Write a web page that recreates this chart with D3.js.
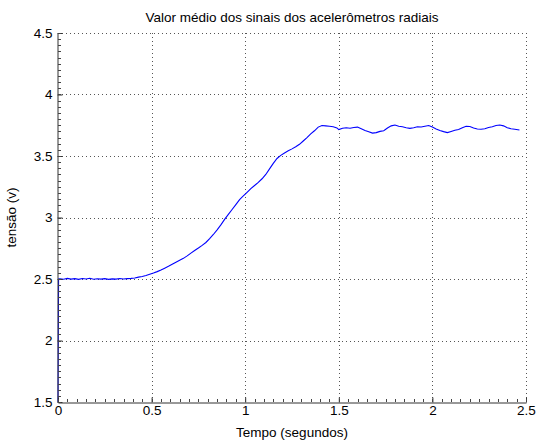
<!DOCTYPE html>
<html>
<head>
<meta charset="utf-8">
<script src="https://cdn.jsdelivr.net/npm/d3@7"></script>
<style>
html,body{margin:0;padding:0;background:#fff;}
svg{display:block;font-family:"Liberation Sans",Arial,Helvetica,sans-serif;}
</style>
</head>
<body>
<svg id="chart" width="536" height="441"></svg>
<script>
const titleText = "Valor médio dos sinais dos acelerômetros radiais";
const xLabel = "Tempo (segundos)";
const yLabel = "tensão (v)";
const xTicks = [0, 0.5, 1, 1.5, 2, 2.5];
const yTicks = [1.5, 2, 2.5, 3, 3.5, 4, 4.5];
const xTickLabels = ["0", "0.5", "1", "1.5", "2", "2.5"];
const yTickLabels = ["1.5", "2", "2.5", "3", "3.5", "4", "4.5"];

const time = [0, 0.003, 0.01, 0.03, 0.05, 0.07, 0.09, 0.11, 0.13, 0.15, 0.17, 0.19, 0.21, 0.23, 0.25, 0.27, 0.29, 0.31, 0.33, 0.35, 0.37, 0.39,
  0.41, 0.43, 0.45, 0.47, 0.49, 0.51, 0.53, 0.55, 0.57, 0.59, 0.61, 0.63, 0.65, 0.67, 0.69, 0.71, 0.73, 0.75, 0.77, 0.79,
  0.81, 0.83, 0.85, 0.87, 0.89, 0.91, 0.93, 0.95, 0.97, 0.99, 1.01, 1.03, 1.05, 1.07, 1.09, 1.11, 1.13, 1.15, 1.17, 1.19,
  1.21, 1.23, 1.25, 1.27, 1.29, 1.31, 1.33, 1.35, 1.37, 1.39, 1.41, 1.43, 1.45, 1.47, 1.49, 1.50, 1.52, 1.54, 1.56, 1.58,
  1.60, 1.62, 1.64, 1.66, 1.68, 1.70, 1.72, 1.74, 1.76, 1.78, 1.80, 1.82, 1.84, 1.86, 1.88, 1.90, 1.92, 1.94, 1.96, 1.98,
  2.00, 2.02, 2.04, 2.06, 2.08, 2.10, 2.12, 2.14, 2.16, 2.18, 2.20, 2.22, 2.24, 2.26, 2.28, 2.30, 2.32, 2.34, 2.36, 2.38,
  2.40, 2.42, 2.44, 2.465];
const tension = [1.5, 2.500, 2.502, 2.498, 2.505, 2.499, 2.503, 2.497, 2.504, 2.500, 2.506, 2.498, 2.502, 2.499, 2.503, 2.497, 2.501, 2.499, 2.504, 2.500, 2.503, 2.505,
  2.508, 2.515, 2.520, 2.528, 2.538, 2.548, 2.560, 2.573, 2.588, 2.603, 2.620, 2.636, 2.652, 2.668, 2.688, 2.710, 2.732, 2.752, 2.773, 2.797,
  2.828, 2.862, 2.900, 2.940, 2.985, 3.025, 3.065, 3.105, 3.145, 3.175, 3.205, 3.235, 3.260, 3.285, 3.315, 3.350, 3.395, 3.440, 3.480, 3.505,
  3.525, 3.542, 3.558, 3.575, 3.595, 3.622, 3.650, 3.680, 3.705, 3.735, 3.748, 3.745, 3.742, 3.738, 3.728, 3.715, 3.725, 3.730, 3.726, 3.732,
  3.735, 3.722, 3.708, 3.698, 3.686, 3.690, 3.700, 3.705, 3.728, 3.745, 3.752, 3.742, 3.738, 3.730, 3.725, 3.730, 3.738, 3.736, 3.742, 3.748,
  3.735, 3.720, 3.708, 3.698, 3.690, 3.700, 3.710, 3.715, 3.730, 3.742, 3.740, 3.728, 3.720, 3.718, 3.722, 3.732, 3.738, 3.748, 3.752, 3.745,
  3.730, 3.722, 3.718, 3.712];

const svg = d3.select("#chart");
const mLeft = 58, mRight = 526, mTop = 33, mBottom = 402;
const x = d3.scaleLinear().domain([0, 2.5]).range([mLeft, mRight]);
const y = d3.scaleLinear().domain([1.5, 4.5]).range([mBottom, mTop]);

// grid
const grid = svg.append("g").attr("stroke", "#555").attr("stroke-width", 1).attr("stroke-dasharray", "1,3").attr("shape-rendering", "crispEdges");
xTicks.filter(d => d > 0).forEach(d => {
  grid.append("line").attr("x1", Math.round(x(d)) + 0.5).attr("x2", Math.round(x(d)) + 0.5).attr("y1", mTop).attr("y2", mBottom);
});
yTicks.filter(d => d > 1.5).forEach(d => {
  grid.append("line").attr("y1", Math.round(y(d)) + 0.5).attr("y2", Math.round(y(d)) + 0.5).attr("x1", mLeft).attr("x2", mRight);
});

// data line
const line = d3.line().x((d, i) => x(time[i])).y(d => y(d));
svg.append("path").datum(tension).attr("d", line).attr("fill", "none").attr("stroke", "#0000ff").attr("stroke-width", 1.1);

// axes
const xAxis = d3.axisBottom(x).tickValues(xTicks).tickFormat((d, i) => xTickLabels[i]).tickSizeInner(-5).tickSizeOuter(0).tickPadding(8);
const yAxis = d3.axisLeft(y).tickValues(yTicks).tickFormat((d, i) => yTickLabels[i]).tickSizeInner(-5).tickSizeOuter(0).tickPadding(8);
const gx = svg.append("g").attr("transform", `translate(0,${mBottom + 0.5})`).call(xAxis);
const gy = svg.append("g").attr("transform", `translate(${mLeft - 0.5},0)`).call(yAxis);
[gx, gy].forEach(g => {
  g.select(".domain").attr("stroke", "#333");
  g.selectAll(".tick line").attr("stroke", "#333");
  g.selectAll(".tick text").attr("fill", "#000").style("font-size", "13.5px").style("font-family", "'Liberation Sans',Arial,sans-serif");
});
gx.selectAll(".tick text").attr("dy", "0.71em").attr("y", 3);
gy.selectAll(".tick text").attr("x", -5);

// minor ticks
const xMinor = d3.range(0, 2.5001, 0.05);
const yMinor = d3.range(1.5, 4.5001, 0.05);
svg.append("g").selectAll("line").data(xMinor).join("line")
  .attr("x1", d => Math.round(x(d)) + 0.5).attr("x2", d => Math.round(x(d)) + 0.5)
  .attr("y1", mBottom).attr("y2", mBottom - 3).attr("stroke", "#444");
svg.append("g").selectAll("line").data(yMinor).join("line")
  .attr("y1", d => Math.round(y(d)) + 0.5).attr("y2", d => Math.round(y(d)) + 0.5)
  .attr("x1", mLeft).attr("x2", mLeft + 3).attr("stroke", "#444");

// title and labels
svg.append("text").attr("x", (mLeft + mRight) / 2).attr("y", 22).attr("text-anchor", "middle")
  .style("font-size", "13.5px").text(titleText);
svg.append("text").attr("x", (mLeft + mRight) / 2).attr("y", 437).attr("text-anchor", "middle")
  .style("font-size", "13.5px").text(xLabel);
svg.append("text").attr("transform", `translate(16,${(mTop + mBottom) / 2}) rotate(-90)`).attr("text-anchor", "middle")
  .style("font-size", "13.5px").text(yLabel);
</script>
</body>
</html>
